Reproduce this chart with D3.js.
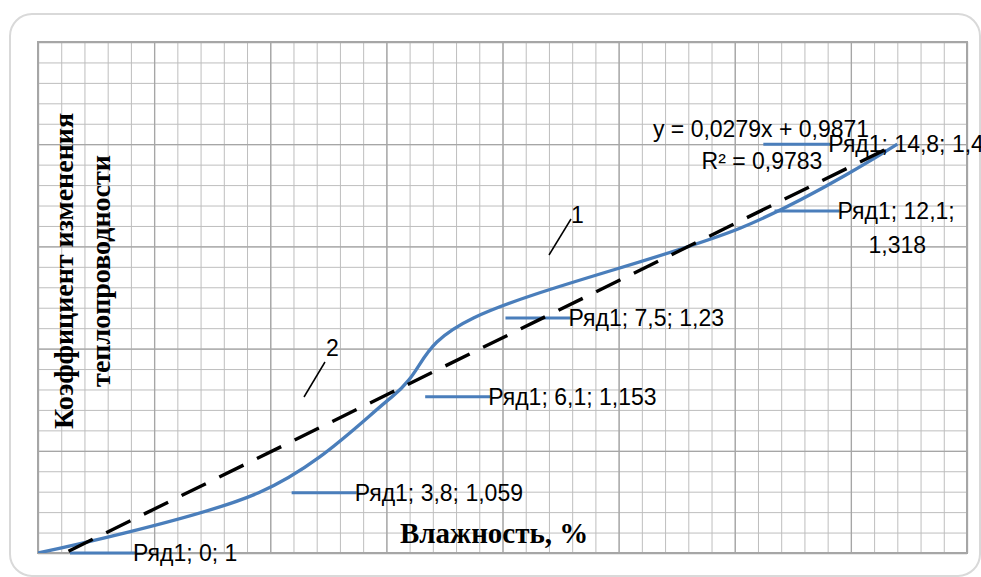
<!DOCTYPE html>
<html>
<head>
<meta charset="utf-8">
<script src="https://cdn.jsdelivr.net/npm/d3@7"></script>
<style>
    body { margin: 0; background: #fff; }
    svg { display: block; }
</style>
</head>
<body>
<div id="chart"></div>
<script>
    // data
    const moisture = [0, 3.8, 6.1, 7.5, 12.1, 14.8];
    const coefficient = [1, 1.059, 1.153, 1.23, 1.318, 1.4];
    const seriesName = "Ряд1";
    const xTitle = "Влажность, %";
    const yTitle = ["Коэффициент изменения", "теплопроводности"];
    const xDomain = [0, 16];
    const yDomain = [1, 1.5];

    // label placement relative to each point (layout only)
    const labelLayout = [
        { dx: 32, dy: 0, tx: 95, lines: 1 },
        { dx: 33, dy: 0, tx: 96, lines: 1 },
        { dx: 33, dy: 0, tx: 96, lines: 1 },
        { dx: 32, dy: 0, tx: 95, lines: 1 },
        { dx: 34, dy: -17, tx: 97, lines: 2 },
        { dx: -134, dy: 0, tx: -69, lines: 1 }
    ];

    const width = 981;
    const height = 577;
    const plot = { left: 38, top: 42, right: 967, bottom: 553 };
    const blue = "#4A7EBB";
    const labelFont = "Liberation Sans, Arial, sans-serif";
    const titleFont = "Liberation Serif, Times New Roman, serif";

    const svg = d3.select("#chart").append("svg")
        .attr("width", width)
        .attr("height", height);

    // outer chart frame
    svg.append("rect")
        .attr("x", 10).attr("y", 14)
        .attr("width", 970).attr("height", 562)
        .attr("rx", 22)
        .attr("fill", "#fff")
        .attr("stroke", "#d9d9d9")
        .attr("stroke-width", 2);

    const x = d3.scaleLinear().domain(xDomain).range([plot.left, plot.right]);
    const y = d3.scaleLinear().domain(yDomain).range([plot.bottom, plot.top]);

    const fmt = v => String(+v.toFixed(4)).replace(".", ",");

    // gridlines (minor then major)
    const xMinor = d3.range(0, 40 + 1).map(i => i * 0.4);
    const yMinor = d3.range(0, 25 + 1).map(i => 1 + i * 0.02);

    function drawGrid(values, axisFn, translate, size, color, sw) {
        const g = svg.append("g")
            .attr("transform", translate)
            .call(axisFn.tickValues(values).tickSize(size).tickFormat(""));
        g.select(".domain").remove();
        g.selectAll("line").attr("stroke", color).attr("stroke-width", sw);
    }

    drawGrid(xMinor, d3.axisBottom(x), `translate(0,${plot.bottom})`,
        -(plot.bottom - plot.top), "#bebebe", 1);
    drawGrid(yMinor, d3.axisLeft(y), `translate(${plot.left},0)`,
        -(plot.right - plot.left), "#bebebe", 1);
    drawGrid(xMinor.filter((d, i) => i % 5 === 0), d3.axisBottom(x), `translate(0,${plot.bottom})`,
        -(plot.bottom - plot.top), "#a6a6a6", 1.3);
    drawGrid(yMinor.filter((d, i) => i % 5 === 0), d3.axisLeft(y), `translate(${plot.left},0)`,
        -(plot.right - plot.left), "#a6a6a6", 1.3);

    svg.append("rect")
        .attr("x", plot.left).attr("y", plot.top)
        .attr("width", plot.right - plot.left)
        .attr("height", plot.bottom - plot.top)
        .attr("fill", "none")
        .attr("stroke", "#a6a6a6")
        .attr("stroke-width", 2);

    svg.append("clipPath").attr("id", "plotClip")
        .append("rect")
        .attr("x", plot.left).attr("y", plot.top)
        .attr("width", plot.right - plot.left)
        .attr("height", plot.bottom - plot.top);

    // axis titles
    svg.append("text")
        .attr("x", 400).attr("y", 543)
        .attr("font-family", titleFont)
        .attr("font-weight", "bold")
        .attr("font-size", 29)
        .text(xTitle);

    const yt = svg.append("text")
        .attr("transform", "translate(73,271) rotate(-90)")
        .attr("text-anchor", "middle")
        .attr("font-family", titleFont)
        .attr("font-weight", "bold")
        .attr("font-size", 28);
    yt.append("tspan").attr("x", 0).attr("y", 0).text(yTitle[0]);
    yt.append("tspan").attr("x", 0).attr("y", 37).text(yTitle[1]);

    // smoothed series
    const points = moisture.map((m, i) => [m, coefficient[i]]);
    const line = d3.line()
        .x(d => x(d[0]))
        .y(d => y(d[1]))
        .curve(d3.curveCardinal.tension(0));

    svg.append("path")
        .datum(points)
        .attr("d", line)
        .attr("fill", "none")
        .attr("stroke", blue)
        .attr("stroke-width", 3.3)
        .attr("clip-path", "url(#plotClip)");

    // data labels with leader lines
    points.forEach((p, i) => {
        const L = labelLayout[i];
        const px = x(p[0]);
        const py = y(p[1]) + L.dy;
        svg.append("line")
            .attr("x1", px + L.dx).attr("x2", px + L.tx + 2)
            .attr("y1", py).attr("y2", py)
            .attr("stroke", blue)
            .attr("stroke-width", 3);
        const t = svg.append("text")
            .attr("font-family", labelFont)
            .attr("font-size", 23)
            .attr("fill", "#000");
        if (L.lines === 1) {
            t.append("tspan").attr("x", px + L.tx).attr("y", py + 8)
                .text(`${seriesName}; ${fmt(p[0])}; ${fmt(p[1])}`);
        } else {
            t.append("tspan").attr("x", px + L.tx).attr("y", py + 8)
                .text(`${seriesName}; ${fmt(p[0])};`);
            t.append("tspan").attr("x", px + L.tx + 31).attr("y", py + 42)
                .text(fmt(p[1]));
        }
    });

    // linear trend line (least squares)
    const mx = d3.mean(moisture);
    const my = d3.mean(coefficient);
    const slope = d3.sum(moisture, (m, i) => (m - mx) * (coefficient[i] - my)) /
        d3.sum(moisture, m => (m - mx) * (m - mx));
    const intercept = my - slope * mx;
    const fitted = moisture.map(m => slope * m + intercept);
    const ssRes = d3.sum(coefficient, (c, i) => (c - fitted[i]) ** 2);
    const ssTot = d3.sum(coefficient, c => (c - my) ** 2);
    const r2 = 1 - ssRes / ssTot;

    const xs = d3.extent(moisture);
    svg.append("path")
        .datum(xs.map(m => [m, slope * m + intercept]))
        .attr("d", d3.line().x(d => x(d[0])).y(d => y(d[1])))
        .attr("fill", "none")
        .attr("stroke", "#000")
        .attr("stroke-width", 3.4)
        .attr("stroke-dasharray", "27,15")
        .attr("stroke-dashoffset", 8)
        .attr("clip-path", "url(#plotClip)");

    const eq = svg.append("text")
        .attr("font-family", labelFont)
        .attr("font-size", 23)
        .attr("text-anchor", "middle");
    eq.append("tspan").attr("x", 761).attr("y", 137)
        .text(`y = ${slope.toFixed(4).replace(".", ",")}x + ${intercept.toFixed(4).replace(".", ",")}`);
    eq.append("tspan").attr("x", 762).attr("y", 169)
        .text(`R² = ${r2.toFixed(4).replace(".", ",")}`);

    // curve markers 1 and 2
    const markers = [
        { text: "1", x1: 549, y1: 255, x2: 571, y2: 219, tx: 571, ty: 223 },
        { text: "2", x1: 304, y1: 397, x2: 325, y2: 362, tx: 326, ty: 356 }
    ];
    markers.forEach(m => {
        svg.append("line")
            .attr("x1", m.x1).attr("y1", m.y1)
            .attr("x2", m.x2).attr("y2", m.y2)
            .attr("stroke", "#000").attr("stroke-width", 1.5);
        svg.append("text")
            .attr("x", m.tx).attr("y", m.ty)
            .attr("font-family", labelFont)
            .attr("font-size", 23)
            .text(m.text);
    });
</script>
</body>
</html>
